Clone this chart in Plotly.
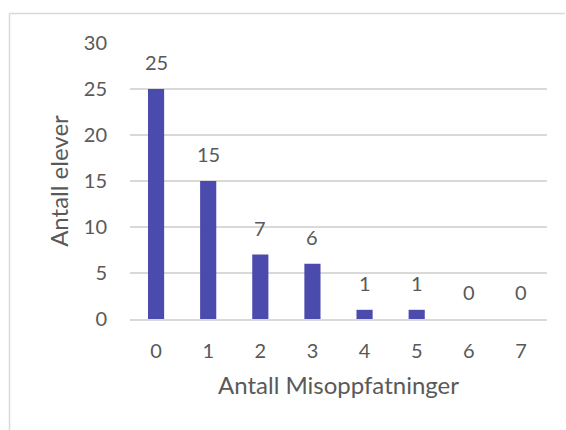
import plotly.graph_objects as go

# Number of misconceptions per student and how many students had each count
misoppfatninger = ["0", "1", "2", "3", "4", "5", "6", "7"]
antall_elever = [25, 15, 7, 6, 1, 1, 0, 0]

y_ticks = [0, 5, 10, 15, 20, 25, 30]

W, H = 566, 430
L, R, T, B = 130, 19, 43, 111
FONT = "Lato"
GREY = "#595959"
BAR = "#4B4BAE"
GRID = "#D9D9D9"
TICK_SIZE = 20
TITLE_SIZE = 24

fig = go.Figure()
fig.add_trace(go.Bar(
    x=misoppfatninger,
    y=antall_elever,
    marker=dict(color=BAR, line=dict(width=0)),
    hoverinfo="x+y",
))

# value labels above each bar
for cat, val in zip(misoppfatninger, antall_elever):
    fig.add_annotation(
        x=cat, y=val, text=str(val), showarrow=False,
        yanchor="bottom", yshift=13,
        font=dict(family=FONT, size=TICK_SIZE, color=GREY),
    )

# light frame around the chart area (top and left edges)
pw = W - L - R
ph = H - T - B
x_left = (9.5 - L) / pw
y_top = 1 + (T - 13.5) / ph
x_right = (565 - L) / pw
y_bot = -(H - T - ph) / ph - 0.1
fig.add_shape(type="line", xref="paper", yref="paper",
              x0=x_left, x1=x_right, y0=y_top, y1=y_top,
              line=dict(color=GRID, width=1.5))
fig.add_shape(type="line", xref="paper", yref="paper",
              x0=x_left, x1=x_left, y0=y_top, y1=y_bot,
              line=dict(color=GRID, width=1.5))

fig.update_layout(
    width=W, height=H,
    margin=dict(l=L, r=R, t=T, b=B),
    paper_bgcolor="white", plot_bgcolor="white",
    bargap=0.69,
    showlegend=False,
    font=dict(family=FONT, color=GREY),
    xaxis=dict(
        type="category",
        showgrid=False,
        showline=True, linecolor=GRID, linewidth=1.5,
        ticks="outside", ticklen=13, tickcolor="rgba(0,0,0,0)",
        tickfont=dict(family=FONT, size=TICK_SIZE, color=GREY),
        title=dict(text="Antall Misoppfatninger",
                   font=dict(family=FONT, size=TITLE_SIZE, color=GREY), standoff=16),
        fixedrange=True,
    ),
    yaxis=dict(
        range=[0, 30],
        tickvals=y_ticks,
        showgrid=True, gridcolor=GRID, gridwidth=1.5,
        zeroline=False, showline=False,
        ticks="outside", ticklen=18, tickcolor="rgba(0,0,0,0)",
        tickfont=dict(family=FONT, size=TICK_SIZE, color=GREY),
        title=dict(text="Antall elever",
                   font=dict(family=FONT, size=TITLE_SIZE, color=GREY), standoff=8),
        fixedrange=True,
    ),
)

fig.write_html("out.html", config={"displayModeBar": False})
